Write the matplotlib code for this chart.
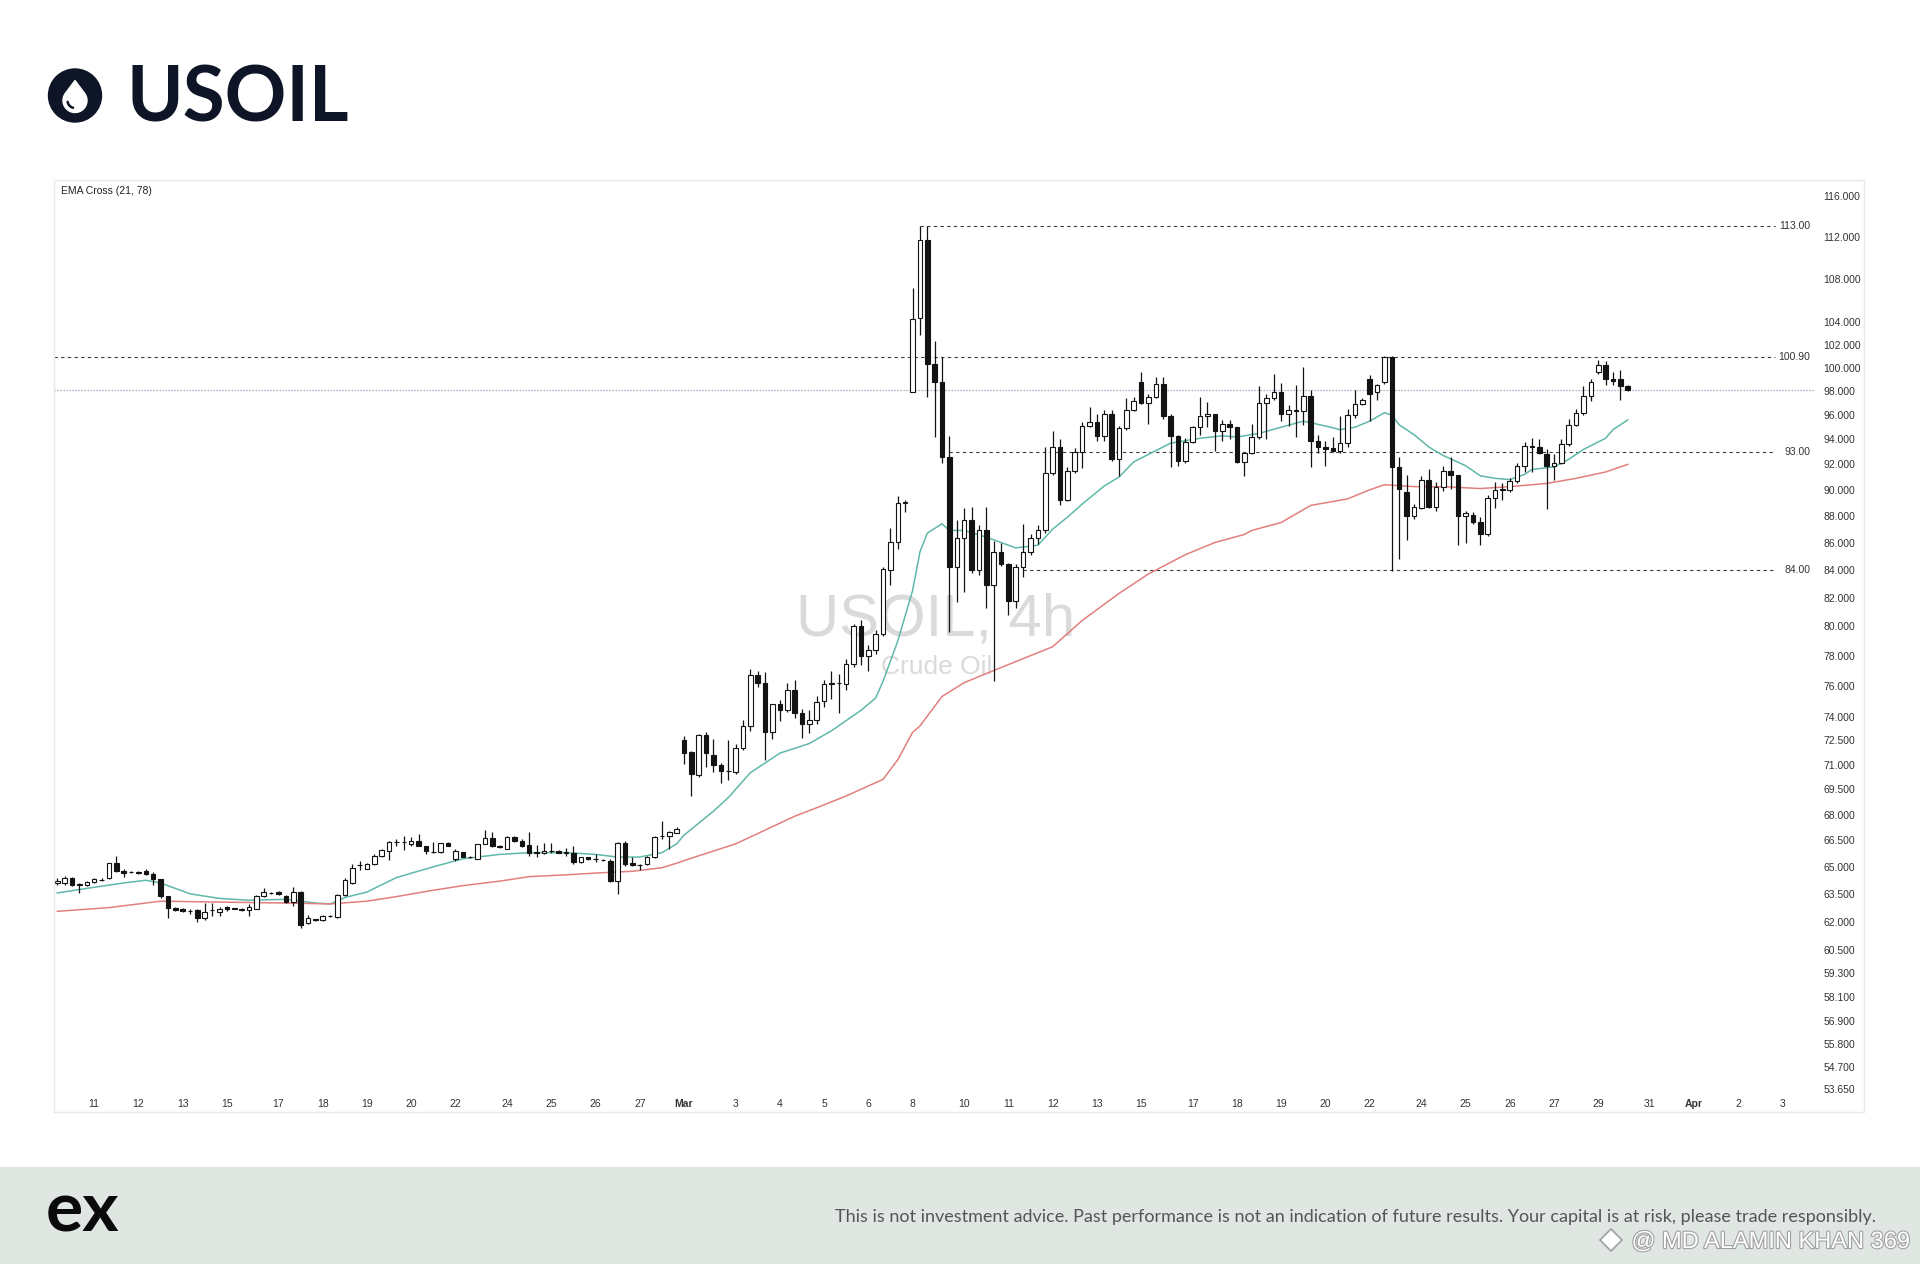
import numpy as np
import matplotlib
matplotlib.use("Agg")
import matplotlib.pyplot as plt
import matplotlib.ticker as ticker
import matplotlib.patheffects as pe
from matplotlib.patches import Rectangle, Circle, Polygon
from matplotlib.lines import Line2D

# ---------------------------------------------------------------- data (4h candles, USOIL)
opens = [
    64.1, 64.1, 64.4, 64.0, 64.0, 64.15, 64.25, 64.35, 65.2, 64.75,
    64.7, 64.72, 64.75, 64.6, 64.3, 63.4, 62.75, 62.7, 62.55, 62.6,
    62.2, 62.6, 62.5, 62.8, 62.7, 62.7, 62.6, 62.7, 63.4, 63.55,
    63.6, 63.4, 63.05, 63.6, 61.9, 62.1, 62.1, 62.3, 62.25, 63.46,
    64.1, 65.1, 64.87, 65.16, 65.6, 65.9, 66.4, 66.42, 66.3, 66.49,
    66.2, 65.85, 65.82, 66.34, 65.44, 65.82, 65.55, 65.44, 66.3, 66.64,
    66.2, 66.0, 66.72, 66.45, 66.25, 65.8, 65.76, 65.9, 65.92, 65.8,
    65.76, 65.25, 65.53, 65.44, 65.4, 65.35, 64.2, 66.35, 65.2, 65.1,
    65.16, 65.56, 66.75, 66.78, 66.95, 72.5, 71.75, 70.35, 72.85, 71.6,
    71.0, 70.6, 70.55, 72.0, 73.43, 76.68, 76.17, 73.0, 74.78, 74.4,
    75.69, 74.25, 73.53, 73.8, 75.0, 76.13, 76.15, 76.13, 77.46, 80.0,
    78.0, 78.4, 79.45, 84.0, 86.04, 89.0, 97.95, 104.4, 111.7, 100.3,
    98.8, 92.6, 84.2, 86.3, 87.7, 84.0, 86.9, 82.9, 85.3, 84.4,
    81.8, 84.2, 85.3, 86.3, 86.9, 91.3, 93.4, 89.2, 91.5, 93.0,
    95.1, 95.4, 94.3, 96.1, 92.4, 94.9, 96.4, 98.8, 97.0, 97.5,
    98.6, 95.9, 94.3, 92.3, 93.8, 95.0, 95.9, 96.1, 94.7, 95.3,
    95.0, 92.2, 92.9, 94.2, 97.0, 97.4, 97.9, 96.1, 96.4, 96.3,
    97.6, 93.9, 93.4, 93.3, 93.1, 93.7, 96.0, 96.9, 99.0, 97.9,
    98.8, 100.9, 91.8, 89.8, 88.0, 88.6, 90.8, 88.7, 90.2, 91.5,
    91.2, 88.0, 88.1, 87.5, 86.6, 89.4, 90.0, 90.0, 90.7, 91.9,
    93.5, 93.4, 92.8, 91.9, 92.1, 93.6, 95.2, 96.2, 97.6, 99.6,
    100.2, 99.0, 99.0, 98.4,
]
highs = [
    64.35, 64.5, 64.45, 64.1, 64.2, 64.4, 64.35, 65.2, 65.6, 64.85,
    64.75, 64.75, 64.85, 64.7, 64.3, 63.4, 62.8, 62.75, 62.65, 62.65,
    63.0, 63.0, 62.8, 62.85, 62.75, 62.75, 62.95, 63.45, 63.8, 63.6,
    63.65, 63.45, 63.9, 63.65, 62.35, 62.15, 62.35, 62.35, 63.5, 64.4,
    65.15, 65.3, 65.2, 65.7, 66.0, 66.45, 66.6, 66.78, 66.68, 66.88,
    66.2, 66.4, 66.36, 66.38, 66.0, 65.85, 65.6, 66.32, 67.1, 66.97,
    66.22, 66.78, 66.78, 66.58, 66.97, 66.25, 66.34, 66.34, 65.95, 66.05,
    66.2, 65.58, 65.56, 65.7, 65.44, 65.44, 66.4, 66.44, 65.53, 65.16,
    65.6, 66.74, 67.6, 67.06, 67.25, 72.8, 71.85, 72.9, 73.0, 72.6,
    71.1, 72.5, 72.3, 73.8, 77.13, 77.0, 76.9, 74.82, 75.05, 76.17,
    76.4, 74.5, 74.45, 75.3, 76.35, 77.0, 76.8, 77.8, 80.18, 80.46,
    78.7, 79.72, 84.2, 87.05, 89.5, 89.2, 107.1, 113.0, 113.0, 102.3,
    100.95, 94.3, 87.7, 88.6, 88.7, 87.3, 88.7, 86.1, 86.0, 84.5,
    84.4, 87.4, 86.6, 87.3, 93.4, 94.7, 94.0, 91.8, 93.3, 95.4,
    96.7, 96.1, 96.4, 96.4, 95.1, 97.4, 97.5, 99.6, 97.8, 99.2,
    99.2, 96.1, 94.4, 94.1, 95.1, 97.5, 97.1, 96.1, 95.6, 95.6,
    95.0, 92.9, 95.3, 98.4, 97.8, 99.5, 98.7, 96.8, 98.5, 100.1,
    98.1, 94.4, 93.9, 94.2, 95.9, 96.5, 98.1, 97.4, 99.4, 98.6,
    101.0, 101.0, 92.6, 91.2, 88.9, 91.1, 91.6, 90.6, 91.9, 92.6,
    91.2, 88.4, 88.3, 87.9, 89.6, 90.6, 90.5, 90.9, 92.1, 93.8,
    94.1, 94.0, 93.2, 92.8, 94.0, 95.7, 96.5, 98.4, 99.0, 100.7,
    100.6, 99.6, 99.8, 98.5,
]
lows = [
    64.0, 64.0, 63.95, 63.55, 63.95, 64.1, 64.2, 64.3, 64.7, 64.45,
    64.65, 64.6, 64.55, 64.0, 63.3, 62.2, 62.55, 62.5, 62.4, 62.0,
    62.1, 62.3, 62.3, 62.55, 62.65, 62.55, 62.3, 62.65, 63.35, 63.5,
    63.45, 63.0, 62.85, 61.65, 61.85, 62.05, 62.05, 62.25, 62.2, 63.4,
    64.05, 64.8, 64.85, 65.1, 65.55, 65.4, 66.2, 65.95, 66.2, 66.15,
    65.7, 65.78, 65.8, 66.18, 65.35, 65.55, 65.5, 65.42, 66.28, 66.1,
    66.08, 65.98, 66.4, 66.1, 65.6, 65.57, 65.74, 65.76, 65.76, 65.6,
    65.16, 65.22, 65.4, 65.25, 65.33, 64.14, 63.5, 65.07, 65.07, 64.8,
    65.1, 65.5, 66.6, 66.03, 66.9, 71.05, 69.1, 70.25, 70.85, 70.55,
    69.9, 70.05, 70.45, 71.9, 73.1, 75.9, 71.25, 72.6, 73.75, 74.3,
    73.9, 72.65, 72.95, 73.53, 74.6, 75.15, 74.2, 75.69, 77.25, 77.35,
    76.98, 78.1, 79.3, 82.88, 85.55, 88.3, 97.9, 102.9, 97.5, 94.2,
    92.1, 79.6, 81.7, 82.4, 83.8, 83.6, 81.3, 76.3, 84.3, 80.8,
    81.3, 83.5, 85.1, 85.9, 86.7, 91.2, 88.8, 89.1, 91.3, 91.7,
    95.0, 93.9, 93.9, 92.3, 91.1, 94.8, 96.3, 96.9, 95.3, 97.4,
    95.7, 91.8, 91.9, 92.1, 93.7, 94.4, 95.0, 93.1, 93.9, 94.0,
    92.1, 91.1, 92.8, 94.0, 94.0, 97.3, 95.5, 95.1, 94.2, 95.2,
    91.8, 92.9, 91.9, 93.0, 92.9, 93.4, 95.8, 96.8, 95.5, 97.3,
    98.6, 83.9, 84.8, 86.2, 87.8, 88.5, 88.6, 88.4, 89.9, 90.1,
    85.8, 86.0, 87.4, 85.8, 86.5, 88.6, 89.2, 89.8, 90.5, 91.4,
    91.4, 92.8, 88.5, 90.8, 92.0, 93.5, 95.1, 96.0, 97.2, 99.5,
    98.5, 98.5, 97.3, 98.0,
]
closes = [
    64.2, 64.4, 64.0, 64.05, 64.15, 64.3, 64.27, 65.2, 64.75, 64.65,
    64.7, 64.65, 64.6, 64.3, 63.4, 62.75, 62.6, 62.55, 62.56, 62.2,
    62.5, 62.62, 62.7, 62.7, 62.72, 62.6, 62.8, 63.4, 63.6, 63.57,
    63.5, 63.05, 63.6, 61.8, 62.2, 62.12, 62.3, 62.32, 63.46, 64.27,
    64.96, 65.12, 65.17, 65.6, 65.95, 66.4, 66.42, 66.38, 66.49, 66.2,
    65.87, 65.82, 66.34, 66.2, 65.87, 65.58, 65.53, 66.3, 66.64, 66.15,
    66.1, 66.72, 66.45, 66.2, 65.76, 65.82, 65.92, 65.88, 65.79, 65.82,
    65.25, 65.56, 65.44, 65.42, 65.38, 64.2, 66.35, 65.16, 65.12, 65.12,
    65.56, 66.7, 66.78, 66.97, 67.17, 71.7, 70.4, 72.85, 71.7, 71.0,
    70.6, 70.62, 72.0, 73.43, 76.68, 76.17, 73.0, 74.78, 74.45, 75.69,
    74.25, 73.53, 73.8, 74.95, 76.13, 76.15, 76.17, 77.46, 80.0, 78.0,
    78.4, 79.5, 84.03, 86.04, 89.0, 89.05, 104.3, 111.7, 100.3, 98.8,
    92.6, 84.2, 86.3, 87.7, 83.96, 86.9, 82.9, 85.3, 84.4, 81.8,
    84.2, 85.3, 86.3, 86.9, 91.3, 93.4, 89.2, 91.5, 93.0, 95.1,
    95.4, 94.3, 96.1, 92.4, 94.9, 96.4, 97.2, 97.0, 97.5, 98.6,
    95.9, 94.3, 92.3, 93.8, 95.0, 95.9, 96.1, 94.7, 95.3, 95.0,
    92.2, 92.9, 94.2, 97.0, 97.4, 97.9, 96.1, 96.4, 96.3, 97.6,
    93.9, 93.4, 93.2, 93.1, 93.7, 96.0, 96.9, 97.3, 97.8, 98.5,
    100.9, 91.8, 90.1, 88.0, 88.7, 90.8, 88.7, 90.2, 91.5, 91.2,
    88.0, 88.2, 87.5, 86.6, 89.4, 90.0, 90.1, 90.7, 91.9, 93.5,
    93.4, 92.9, 91.9, 92.1, 93.6, 95.2, 96.2, 97.6, 98.8, 100.2,
    99.0, 98.9, 98.4, 98.1,
]

# EMA 21 / EMA 78 (candle index, price)
ema21_idx = [0, 4, 9, 12, 14, 16, 18, 22, 26, 31, 35, 37, 39, 42, 46, 51, 55, 60, 64, 69,
             73, 76, 79, 82, 84, 85, 89, 91, 94, 98, 102, 105, 109, 111, 112, 114, 116, 117, 118, 120,
             121, 123, 126, 128, 130, 133, 135, 137, 139, 142, 144, 146, 149, 151, 153, 155, 158, 160, 163, 166,
             169, 172, 174, 176, 178, 180, 181, 182, 184, 186, 188, 191, 193, 195, 197, 199, 200, 203, 205, 207,
             210, 211, 213]
ema21_val = [63.55, 63.8, 64.1, 64.25, 64.1, 63.8, 63.5, 63.25, 63.15, 63.2, 63.0, 62.95, 63.3, 63.6, 64.4, 65.0, 65.45, 65.7, 65.8, 65.8,
             65.7, 65.55, 65.55, 65.8, 66.3, 66.8, 68.2, 69.0, 70.5, 71.7, 72.3, 73.1, 74.4, 75.2, 76.3, 79.0, 82.5, 85.3, 86.7, 87.4,
             86.9, 86.9, 86.4, 86.0, 85.6, 85.8, 87.0, 87.9, 88.9, 90.3, 91.0, 92.2, 93.1, 93.7, 93.9, 94.1, 94.3, 94.2, 94.5, 95.0,
             95.5, 95.1, 94.8, 95.0, 95.5, 96.2, 96.0, 95.2, 94.4, 93.4, 92.7, 91.9, 91.1, 90.9, 90.8, 91.2, 91.6, 91.8, 92.4, 93.2,
             94.1, 94.8, 95.6]
ema78_idx = [0, 7, 14, 22, 31, 37, 42, 46, 51, 55, 60, 64, 69, 73, 78, 82, 84, 85, 92, 100,
             103, 107, 112, 114, 116, 117, 120, 123, 126, 128, 130, 135, 139, 144, 148, 153, 157, 161, 162, 166,
             170, 175, 178, 180, 184, 188, 193, 197, 202, 206, 210, 213]
ema78_val = [62.55, 62.75, 63.1, 63.05, 63.0, 62.95, 63.1, 63.35, 63.7, 63.95, 64.2, 64.45, 64.55, 64.65, 64.75, 64.95, 65.2, 65.35, 66.3, 67.9,
             68.4, 69.1, 70.1, 71.3, 73.0, 73.4, 75.3, 76.2, 76.8, 77.2, 77.6, 78.6, 80.4, 82.3, 83.7, 85.1, 86.0, 86.6, 86.9, 87.5,
             88.8, 89.3, 90.0, 90.4, 90.25, 90.25, 90.1, 90.25, 90.5, 90.9, 91.4, 92.0]

# horizontal levels drawn on the chart
level_prices = [113.0, 100.9, 93.0, 84.0]
level_labels = ["113.00", "100.90", "93.00", "84.00"]
level_from = [117, -0.45, 121, 131]
level_to = 233

# axis labels
y_ticks = [116, 112, 108, 104, 102, 100, 98, 96, 94, 92, 90, 88, 86, 84, 82, 80, 78, 76, 74,
           72.5, 71, 69.5, 68, 66.5, 65, 63.5, 62, 60.5, 59.3, 58.1, 56.9, 55.8, 54.7, 53.65]
x_tick_pos = [5, 11, 17, 23, 30, 36, 42, 48, 54, 61, 67, 73, 79, 85, 92, 98, 104, 110, 116,
              123, 129, 135, 141, 147, 154, 160, 166, 172, 178, 185, 191, 197, 203, 209, 216, 222, 228, 234]
x_tick_labels = ["11", "12", "13", "15", "17", "18", "19", "20", "22", "24", "25", "26", "27", "Mar",
                 "3", "4", "5", "6", "8", "10", "11", "12", "13", "15", "17", "18", "19", "20", "22",
                 "24", "25", "26", "27", "29", "31", "Apr", "2", "3"]

disclaimer = ("This is not investment advice. Past performance is not an indication of future results. "
              "Your capital is at risk, please trade responsibly.")

# ---------------------------------------------------------------- figure
plt.rcParams["font.family"] = ["Liberation Sans", "DejaVu Sans"]

W, H = 1920, 1264
fig = plt.figure(figsize=(W / 100, H / 100), dpi=100)
fig.patch.set_facecolor("white")


def fx(px):
    return px / W


def fy(py):
    return 1 - py / H


INK = "#131313"

# chart panel frame
fig.add_artist(Rectangle((fx(54), fy(1112)), fx(1864) - fx(54), fy(180) - fy(1112),
                         transform=fig.transFigure, fill=False, edgecolor="#e9e9e9", lw=1))

ax = fig.add_axes([fx(54), fy(1093), fx(1815) - fx(54), fy(181) - fy(1093)])
ax.set_yscale("log")
ax.set_xlim(-0.45, 238.4)
ax.set_ylim(53.47, 117.5)
for s in ax.spines.values():
    s.set_visible(False)

o = np.array(opens)
h = np.array(highs)
l = np.array(lows)
c = np.array(closes)
x = np.arange(len(c))
up = c >= o

# candles
ax.vlines(x, l, h, color=INK, lw=0.9, zorder=3)
ax.bar(x[up], c[up] - o[up], bottom=o[up], width=0.62, color="white",
       edgecolor=INK, linewidth=0.8, zorder=4)
ax.bar(x[~up], o[~up] - c[~up], bottom=c[~up], width=0.62, color=INK,
       edgecolor=INK, linewidth=0.8, zorder=4)

# EMA cross
ax.plot(ema21_idx, ema21_val, color="#5fb8a9", lw=1.1, zorder=2.5)
ax.plot(ema78_idx, ema78_val, color="#e27f7f", lw=1.1, zorder=2.5)

# levels
for price, lab, start in zip(level_prices, level_labels, level_from):
    ax.hlines(price, start, level_to, colors="#3a3a3a", linestyles=(0, (3, 3)), lw=0.8, zorder=2)
    ax.text(237.8, price, lab, ha="right", va="center", fontsize=7.5, color="#333333", zorder=5)

# last price line
ax.axhline(c[-1], color="#9c95b8", ls=(0, (1, 1.4)), lw=0.9, zorder=2)

# axes ticks
ax.yaxis.set_major_locator(ticker.FixedLocator(y_ticks))
ax.yaxis.set_minor_locator(ticker.NullLocator())
ax.yaxis.set_major_formatter(ticker.FuncFormatter(lambda v, p: f"{v:.3f}"))
ax.yaxis.tick_right()
ax.tick_params(axis="y", which="both", length=0, pad=6, labelsize=7.5, labelcolor="#333333")

ax.set_xticks(x_tick_pos)
ax.set_xticklabels(x_tick_labels)
ax.tick_params(axis="x", length=0, pad=4, labelsize=7.5, labelcolor="#333333")
for lbl in ax.get_xticklabels():
    if lbl.get_text() in ("Mar", "Apr"):
        lbl.set_fontweight("bold")

# chart watermark
ax.text(fx(936), fy(620), "USOIL, 4h", transform=fig.transFigure, ha="center", va="center",
        fontsize=43, color="#dadada", zorder=0.5)
ax.text(fx(937), fy(667), "Crude Oil", transform=fig.transFigure, ha="center", va="center",
        fontsize=19, color="#dadada", zorder=0.5)

fig.text(fx(61), fy(191), "EMA Cross (21, 78)", fontsize=7.5, va="center", color="#222222")

# header
fig.text(fx(126), fy(122), "USOIL", fontsize=55, fontweight="bold", color="#0e1527",
         family=["Lato", "DejaVu Sans"], va="baseline")

logo = fig.add_axes([fx(45), fy(125.5), 60 / W, 60 / H])
logo.set_xlim(-30, 30)
logo.set_ylim(-30, 30)
logo.axis("off")
logo.add_patch(Circle((0, 0), 26.5, color="#0e1527"))
cy, r, tip = -5.0, 12.0, 15.0
ang = np.degrees(np.arccos(r / (tip - cy)))
t = np.radians(np.linspace(90 + ang, 450 - ang, 80))
drop = [(0, tip)] + list(zip(r * np.cos(t), cy + r * np.sin(t)))
logo.add_patch(Polygon(drop, closed=True, color="white"))
t2 = np.radians(np.linspace(190, 255, 30))
logo.plot(7.5 * np.cos(t2), cy + 7.5 * np.sin(t2), color="#0e1527", lw=1.8, solid_capstyle="round")

# footer
fig.add_artist(Rectangle((0, 0), 1, fy(1167), transform=fig.transFigure, color="#e0e7e3", zorder=0))
fig.text(fx(46), fy(1231), "ex", fontsize=50, fontweight="bold", color="#0b0b0b",
         family=["Lato", "DejaVu Sans"], va="baseline")
fig.text(fx(1876), fy(1222), disclaimer, ha="right", va="baseline", fontsize=13,
         color="#555555", family=["Lato", "DejaVu Sans"])

fig.text(fx(1910), fy(1248), "@ MD ALAMIN KHAN 369", ha="right", va="baseline", fontsize=17,
         color="white", path_effects=[pe.withStroke(linewidth=1.6, foreground="#a0a0a0")])
fig.add_artist(Line2D([fx(1611)], [fy(1240)], marker="D", markersize=11, color="white",
                      markeredgecolor="#a0a0a0", markeredgewidth=1.2, transform=fig.transFigure))

fig.savefig("out.png", dpi=100, facecolor="white")
